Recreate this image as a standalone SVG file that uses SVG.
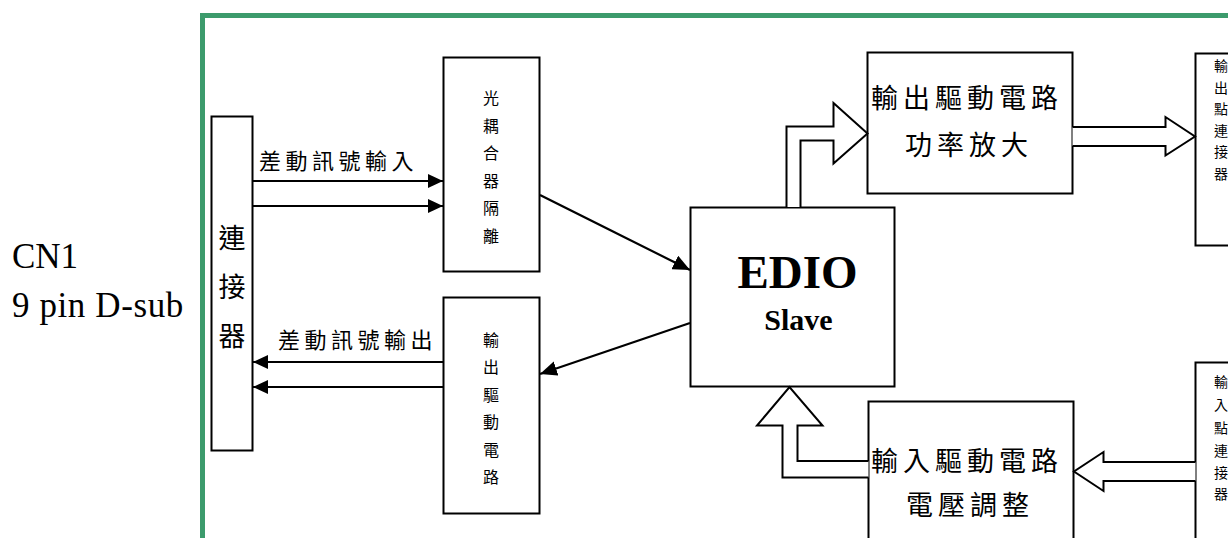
<svg xmlns="http://www.w3.org/2000/svg" width="1228" height="538" viewBox="0 0 1228 538">
<style>
.box{fill:#fff;stroke:#000;stroke-width:2}
.ln{fill:none;stroke:#000;stroke-width:2.2}
.hol{fill:#fff;stroke:#000;stroke-width:2;stroke-linejoin:miter}
.cjk{font-family:"Noto Sans CJK TC","Noto Sans CJK SC",sans-serif;fill:#000}
.v16{font-size:16px;text-anchor:middle}
.v14{font-size:14px;text-anchor:middle}
.lbl{font-size:22px;letter-spacing:4.5px}
.big{font-size:27px;letter-spacing:5px}
.lat{font-family:"Liberation Serif",serif;fill:#000}
</style>
<defs>
<marker id="ah" viewBox="0 0 15 14" refX="15" refY="7" markerWidth="15" markerHeight="14" markerUnits="userSpaceOnUse" orient="auto">
<path d="M0,0 L15,7 L0,14 z" fill="#000"/>
</marker>
<marker id="ahd" viewBox="0 0 17 15" refX="17" refY="7.5" markerWidth="17" markerHeight="15" markerUnits="userSpaceOnUse" orient="auto">
<path d="M0,0 L17,7.5 L0,15 z" fill="#000"/>
</marker>
</defs>
<rect width="1228" height="538" fill="#fff"/>
<rect x="202.5" y="15.5" width="1100" height="600" fill="none" stroke="#3c9b6c" stroke-width="5"/>
<g id="cn1-label">
<text class="lat" x="12" y="268" font-size="35">CN1</text>
<text class="lat" x="12" y="317" font-size="35" letter-spacing="0.6">9 pin D-sub</text>
</g>
<g id="connector">
<rect class="box" x="211.5" y="116.5" width="41" height="334"/>
<text class="cjk" font-size="27" text-anchor="middle" x="232" y="248">連</text>
<text class="cjk" font-size="27" text-anchor="middle" x="232" y="297">接</text>
<text class="cjk" font-size="27" text-anchor="middle" x="232" y="346">器</text>
</g>
<g id="opto">
<rect class="box" x="443.5" y="57.5" width="96" height="214"/>
<text class="cjk v16" x="491" y="104">光</text>
<text class="cjk v16" x="491" y="131.6">耦</text>
<text class="cjk v16" x="491" y="159.2">合</text>
<text class="cjk v16" x="491" y="186.8">器</text>
<text class="cjk v16" x="491" y="214.4">隔</text>
<text class="cjk v16" x="491" y="242">離</text>
</g>
<g id="outdrv">
<rect class="box" x="443.5" y="297.5" width="96" height="216"/>
<text class="cjk v16" x="491" y="346">輸</text>
<text class="cjk v16" x="491" y="373.4">出</text>
<text class="cjk v16" x="491" y="400.8">驅</text>
<text class="cjk v16" x="491" y="428.2">動</text>
<text class="cjk v16" x="491" y="455.6">電</text>
<text class="cjk v16" x="491" y="483">路</text>
</g>
<g id="edio">
<rect class="box" x="690.5" y="207.5" width="204" height="179"/>
<text class="lat" x="797.5" y="288" font-size="47" font-weight="bold" text-anchor="middle">EDIO</text>
<text class="lat" x="798.5" y="330" font-size="30" font-weight="bold" text-anchor="middle">Slave</text>
</g>
<g id="outpower">
<rect class="box" x="867.5" y="52.5" width="205" height="141"/>
<text class="cjk big" x="871" y="108">輸出驅動電路</text>
<text class="cjk big" x="905" y="155">功率放大</text>
</g>
<g id="involt">
<rect class="box" x="868.5" y="401.5" width="205" height="160"/>
<text class="cjk big" x="871" y="471">輸入驅動電路</text>
<text class="cjk big" x="906" y="515">電壓調整</text>
</g>
<g id="outconn">
<rect class="box" x="1195.5" y="53.5" width="60" height="192"/>
<text class="cjk v14" x="1221" y="71">輸</text>
<text class="cjk v14" x="1221" y="92.5">出</text>
<text class="cjk v14" x="1221" y="114">點</text>
<text class="cjk v14" x="1221" y="135.5">連</text>
<text class="cjk v14" x="1221" y="157">接</text>
<text class="cjk v14" x="1221" y="178.5">器</text>
</g>
<g id="inconn">
<rect class="box" x="1195.5" y="362.5" width="60" height="200"/>
<text class="cjk v14" x="1221" y="387">輸</text>
<text class="cjk v14" x="1221" y="410">入</text>
<text class="cjk v14" x="1221" y="433">點</text>
<text class="cjk v14" x="1221" y="455.5">連</text>
<text class="cjk v14" x="1221" y="477.5">接</text>
<text class="cjk v14" x="1221" y="499">器</text>
</g>
<g id="connectors">
<line class="ln" x1="253" y1="181" x2="443" y2="181" marker-end="url(#ah)"/>
<line class="ln" x1="253" y1="206" x2="443" y2="206" marker-end="url(#ah)"/>
<text class="cjk lbl" x="259" y="169">差動訊號輸入</text>
<line class="ln" x1="443" y1="362" x2="253" y2="362" marker-end="url(#ah)"/>
<line class="ln" x1="443" y1="387" x2="253" y2="387" marker-end="url(#ah)"/>
<text class="cjk lbl" x="278" y="348">差動訊號輸出</text>
<line class="ln" x1="540" y1="195" x2="690" y2="270" marker-end="url(#ahd)"/>
<line class="ln" x1="690" y1="323" x2="540" y2="374" marker-end="url(#ahd)"/>
<polyline class="hol" points="786.5,207 786.5,126.5 833.5,126.5 833.5,103 867.5,133.5 833.5,163.5 833.5,140.5 800.5,140.5 800.5,207"/>
<polyline class="hol" points="1072.5,127 1165.5,127 1165.5,117 1195,136.5 1165.5,155.5 1165.5,146 1072.5,146"/>
<polyline class="hol" points="868.5,461 797.5,461 797.5,425.5 822.5,425.5 789.5,387 757,425.5 782.5,425.5 782.5,477.5 868.5,477.5"/>
<polyline class="hol" points="1195.5,462 1103.5,462 1103.5,452 1074,471.5 1103.5,491 1103.5,481 1195.5,481"/>
</g>
</svg>
